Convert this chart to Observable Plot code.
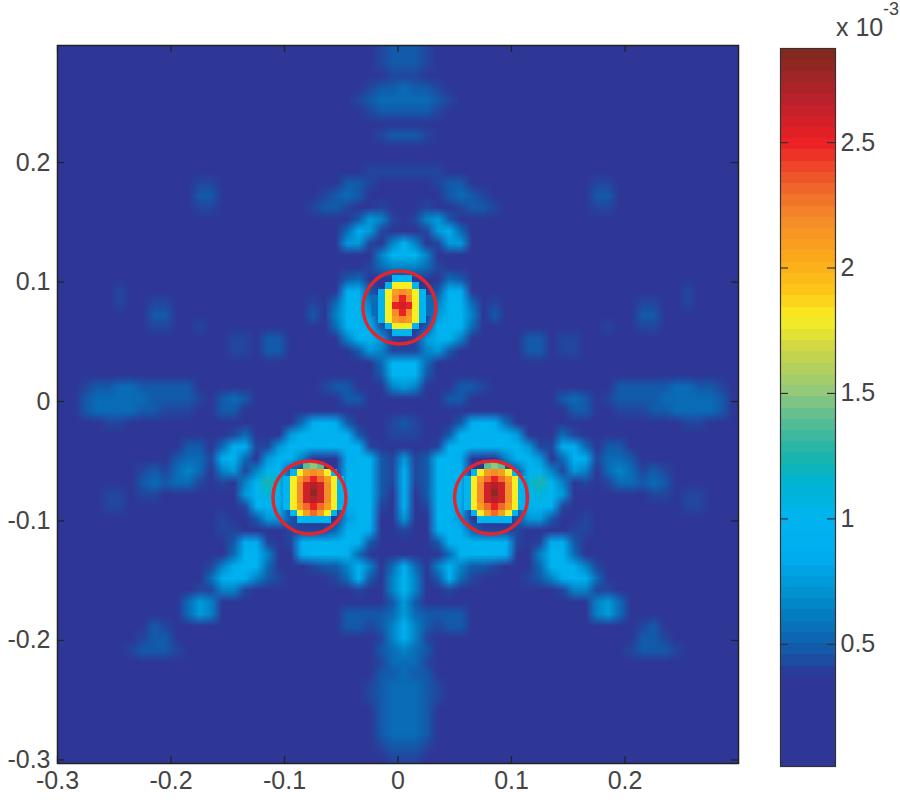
<!DOCTYPE html>
<html><head><meta charset="utf-8">
<script src="https://cdn.jsdelivr.net/npm/d3@7"></script>
<script src="https://cdn.jsdelivr.net/npm/@observablehq/plot@0.6"></script>
<style>
body{margin:0;background:#fff}
#c{position:relative;width:900px;height:800px;overflow:hidden;font-family:"Liberation Sans",Arial,sans-serif;color:#444}
#c svg{position:absolute;top:0;background:transparent}
.t{position:absolute;white-space:nowrap;line-height:1}
</style></head><body><div id="c"></div>
<script>
// Intensity, one base-36 digit per 0.01 cell; digitLevels gives each digit's value in units of 1e-3.
const gridRows = [
"11111 11111 11111 11111 11111 11234 4 43211 11111 11111 11111 11111 1111",
"11111 11111 11111 11111 11111 11234 4 43211 11111 11111 11111 11111 1111",
"11111 11111 11111 11111 11111 11123 3 32111 11111 11111 11111 11111 1111",
"11111 11111 11111 11111 11111 12344 5 44321 11111 11111 11111 11111 1111",
"11111 11111 11111 11111 11111 13455 5 55431 11111 11111 11111 11111 1111",
"11111 11111 11111 11111 11111 12344 4 44321 11111 11111 11111 11111 1111",
"11111 11111 11111 11111 11111 11111 1 11111 11111 11111 11111 11111 1111",
"11111 11111 11111 11111 11111 11234 4 43211 11111 11111 11111 11111 1111",
"11111 11111 11111 11111 11111 11112 2 21111 11111 11111 11111 11111 1111",
"11111 11111 11111 11111 11111 11111 1 11111 11111 11111 11111 11111 1111",
"11111 11111 11111 11111 11111 11333 3 33311 11111 11111 11111 11111 1111",
"11111 11112 11331 11111 11111 44311 1 11344 11111 11111 13311 21111 1111",
"11111 11112 12441 11111 11134 54211 1 11245 43111 11111 14421 21111 1111",
"11111 11111 11331 11111 11344 31231 1 13213 44311 11111 13311 11111 1111",
"11111 11111 11111 11111 11211 14763 1 36741 11211 11111 11111 11111 1111",
"11111 11111 11111 11111 11111 58731 1 13785 11111 11111 11111 11111 1111",
"11111 11111 11111 11111 11112 77316 a 61377 21111 11111 11111 11111 1111",
"11111 11111 11111 11111 11111 2126a a a6212 11111 11111 11111 11111 1111",
"11111 11111 11111 11111 11111 11356 6 65311 11111 11111 11111 11111 1111",
"11111 11111 11111 11111 11111 45212 2 21254 11111 11111 11111 11111 1111",
"11111 31111 11111 11111 11112 89413 3 31498 21111 11111 11111 11113 1111",
"11111 31133 11111 11111 11315 aa611 1 116aa 51311 11111 11111 33113 1111",
"11111 21144 11111 11111 11416 aa711 1 117aa 61411 11111 11111 44112 1111",
"11111 11133 11311 11111 11215 aa941 1 149aa 51211 11111 11311 33111 1111",
"11111 11111 11111 33144 11112 6aa73 2 37aa6 21111 44133 11111 11111 1111",
"11111 11111 11111 33144 11111 14763 3 36741 11111 44133 11111 11111 1111",
"11111 11111 11111 11122 11111 1125a a a5211 11111 22111 11111 11111 1111",
"11111 11111 11111 11111 11112 2114a a a4112 21111 11111 11111 11111 1111",
"11344 55444 44211 11111 11134 42116 7 61124 43111 11111 11244 44455 4431",
"12455 55544 44324 54111 11112 44211 2 11244 21111 11145 42344 44555 5542",
"11455 55443 33224 42111 11111 11111 1 11111 11111 11124 42233 34455 5541",
"11123 32111 11111 11111 25898 41113 4 31114 89852 11111 11111 11123 3211",
"11111 11111 11111 35112 7aaaa 94113 3 31149 aaaa7 21153 11111 11111 1111",
"11111 11111 24415 88337 aa99a a9311 1 1139a a99aa 73388 51442 11111 1111",
"11111 11111 45538 9527a a6212 8aa43 7 34aa8 2126a a7259 83554 11111 1111",
"11111 11343 56526 736aa 41111 9aa43 9 34aa9 11114 aa637 62565 34311 1111",
"11111 12454 55313 26acb 41111 9aa43 9 34aa9 11114 bca62 31355 45421 1111",
"11113 32332 21111 17aba 31111 9aa42 9 24aa9 11113 aba71 11112 23323 3111",
"11123 31111 11111 139a9 31111 8aa32 9 23aa8 11113 9a931 11111 11113 3211",
"11111 11111 11113 21477 41111 7aa22 7 22aa7 11114 77412 31111 11111 1111",
"11111 11111 11113 31112 33335 9a811 3 118a9 53333 21113 31111 11111 1111",
"11111 11111 11111 48831 39aaa a9411 1 1149a aaa93 13884 11111 11111 1111",
"11111 11111 11111 59961 28aaa 95111 1 11159 aaa82 16995 11111 11111 1111",
"11111 11111 11136 8a951 11344 69615 9 51696 44311 159a8 63111 11111 1111",
"11111 11111 11158 98643 21113 59416 a 61495 31112 34689 85111 11111 1111",
"11111 11111 12336 63111 11111 13116 a 61131 11111 11136 63321 11111 1111",
"11111 11111 15761 11111 11111 11124 7 42111 11111 11111 16751 11111 1111",
"11111 11121 15761 11111 11112 44445 7 54444 21111 11111 16751 12111 1111",
"11111 11243 11111 11111 11112 44346 9 64344 21111 11111 11111 34211 1111",
"11111 12344 21111 11111 11111 11136 8 63111 11111 11111 11112 44321 1111",
"11111 23444 32111 11111 11111 11245 6 54211 11111 11111 11123 44432 1111",
"11111 11111 11111 11111 11111 11235 5 53211 11111 11111 11111 11111 1111",
"11111 11111 11111 11111 11111 11244 5 44211 11111 11111 11111 11111 1111",
"11111 11111 11111 11111 11111 11345 5 54311 11111 11111 11111 11111 1111",
"11111 11111 11111 11111 11111 11345 5 54311 11111 11111 11111 11111 1111",
"11111 11111 11111 11111 11111 11245 5 54211 11111 11111 11111 11111 1111",
"11111 11111 11111 11111 11111 11245 5 54211 11111 11111 11111 11111 1111",
"11111 11111 11111 11111 11111 11245 5 54211 11111 11111 11111 11111 1111",
"11111 11111 11111 11111 11111 11134 4 43111 11111 11111 11111 11111 1111",
"11111 11111 11111 11111 11111 11123 3 32111 11111 11111 11111 11111 1111"
];
const digitLevels = [0.05,0.1,0.28,0.42,0.48,0.55,0.65,0.75,0.85,0.95,1.0,1.1,1.25];
// The three focal spots, at the source image's native pixel size; "." leaves the grid below showing.
const peakTopRows = ["...aaa...","..aiiia..",".ailmlia.","5aimpmia5","5aipqpia5","5aimpmia5",".ailmlia.","..aiiia..","...aaa..."];
const peakSideRows = ["...efe...",".ailmlia.","ailnpnlia","aimqrqmia","aimqsqmia","aimqrqmia","ailnpnlia",".ailnlia.","..aaaaa.."];
const peakCenterX = [0.0037,-0.0744,0.085];
const peakCenterY = [0.0803,-0.0762,-0.0762];
const circleX = [0.0013,-0.078,0.082];
const circleY = [0.0787,-0.0803,-0.0803];
const xTicks = [-0.3,-0.2,-0.1,0,0.1,0.2];
const yTicks = [-0.3,-0.2,-0.1,0,0.1,0.2];
const barTicks = [0.5,1,1.5,2,2.5];
const colorStops = [0,0.38,0.45,0.5,0.6,0.72,0.85,1,1.15,1.25,1.4,1.5,1.65,1.8,1.9,2.05,2.2,2.35,2.5,2.65,2.875];
const colorValues = ["#2e3796","#2e3796","#1a52a4","#0f5fae","#0578bd","#0095d5","#00aeef","#00b4f0","#00b4d0","#1ab4ab","#5cbc94","#8fc87c","#c5d24e","#f8ee22","#fdc818","#faa61a","#f58b2a","#ee5a2a","#ed2024","#c0212c","#7d2a1e"];

const levelOf = c => { const d = parseInt(c,36); return isNaN(d) ? NaN : d < digitLevels.length ? digitLevels[d] : d/10; };
const digits = s => Array.from(s.replace(/\s/g,""), levelOf);
const color = {type:"linear",domain:colorStops,range:colorValues,clamp:true};
const font = {fontFamily:"'Liberation Sans',Arial,sans-serif",color:"#444"};
const peakHalfX = 0.027, peakHalfY = 0.0256;
const peakMark = (rows,i) => Plot.raster(digits(rows.join("")),{
  width:9,height:9,imageRendering:"pixelated",
  x1:peakCenterX[i]-peakHalfX,x2:peakCenterX[i]+peakHalfX,
  y1:peakCenterY[i]+peakHalfY,y2:peakCenterY[i]-peakHalfY});

const main = Plot.plot({
  width:760,height:800,marginLeft:57,marginRight:22,marginTop:45,marginBottom:37,
  x:{domain:[-0.3,0.3]},y:{domain:[-0.303,0.298]},color,style:font,
  marks:[
    Plot.raster(digits(gridRows.join("")),{width:60,height:60,x1:-0.3,x2:0.3,y1:0.298,y2:-0.303,imageRendering:"auto"}),
    peakMark(peakTopRows,0),peakMark(peakSideRows,1),peakMark(peakSideRows,2),
    Plot.dot(circleX,{x:circleX,y:circleY,r:36.5,stroke:"#e1262d",strokeWidth:3.4,fill:"none"}),
    Plot.frame({stroke:"#222",strokeWidth:1.5}),
    Plot.tickX(xTicks,{insetTop:711,stroke:"#222",strokeWidth:1.2}),
    Plot.tickX(xTicks,{insetBottom:711,stroke:"#222",strokeWidth:1.2}),
    Plot.tickY(yTicks,{insetLeft:674,stroke:"#222",strokeWidth:1.2}),
    Plot.tickY(yTicks,{insetRight:674,stroke:"#222",strokeWidth:1.2}),
    Plot.axisX(xTicks,{tickSize:0,tickPadding:8,fontSize:25,label:null,tickFormat:String}),
    Plot.axisY(yTicks,{tickSize:0,tickPadding:7,fontSize:25,label:null,tickFormat:String})
  ]});
main.style.left="0px";

const bar = Plot.plot({
  width:140,height:800,marginLeft:20,marginRight:65,marginTop:48,marginBottom:34,
  x:{domain:[0,1],axis:null},y:{domain:[0.013,2.875]},color,style:font,
  marks:[
    Plot.raster({fill:(x,y)=>y,width:1,height:64,x1:0,x2:1,y1:2.875,y2:0.013,imageRendering:"pixelated"}),
    Plot.frame({stroke:"#333",strokeWidth:1.2}),
    Plot.tickY(barTicks,{insetLeft:47,stroke:"#333",strokeWidth:1.2}),
    Plot.tickY(barTicks,{insetRight:47,stroke:"#333",strokeWidth:1.2}),
    Plot.axisY(barTicks,{anchor:"right",tickSize:0,tickPadding:5,fontSize:25,label:null,tickFormat:String})
  ]});
bar.style.left="760px";

const c = document.getElementById("c");
c.append(main,bar);
const label=(s,x,y,size)=>{const e=document.createElement("span");e.className="t";e.textContent=s;
  e.style.left=x+"px";e.style.top=y+"px";e.style.fontSize=size+"px";c.append(e);};
label("x 10",836,15,25);
label("-3",883,0,18);
</script></body></html>
